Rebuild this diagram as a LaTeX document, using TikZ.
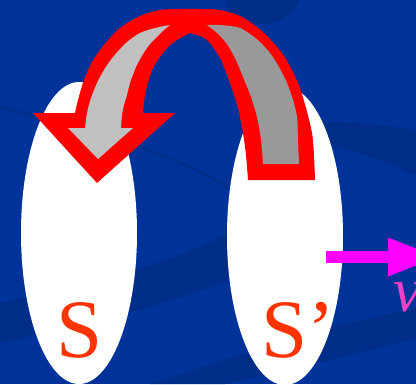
\documentclass[tikz,border=0pt]{standalone}
\usepackage{fontspec}
\setmainfont{Liberation Serif}
\usetikzlibrary{arrows.meta}
\definecolor{bgblue}{RGB}{0,51,153}
\definecolor{bgdark}{RGB}{0,45,136}
\definecolor{bandlight}{RGB}{192,192,192}
\definecolor{banddark}{RGB}{153,153,153}
\definecolor{letterred}{RGB}{255,51,0}
\definecolor{speedmagenta}{RGB}{255,0,255}
\definecolor{vpink}{RGB}{240,64,200}
\begin{document}
\begin{tikzpicture}[x=1pt,y=-1pt,
    frame/.style={white},
    letter/.style={text=letterred, font=\fontsize{83}{83}\selectfont, inner sep=0pt},
    speed/.style={speedmagenta, line width=12pt, -{Triangle[length=52pt,width=35pt]}}]
        % Background and its darker swooshes
        \useasboundingbox (0,0) rectangle (416,384);
        \clip (0,0) rectangle (416,384);
        \fill[bgblue] (0,0) rectangle (416,384);
        \fill[bgdark] (0,303) .. controls (90,285) and (180,260) .. (230,232)
            .. controls (280,160) and (300,122) .. (330,122) .. controls (360,122) and (390,126) .. (416,130)
            -- (416,175) .. controls (390,165) and (360,150) .. (330,147)
            .. controls (300,150) and (270,230) .. (230,280)
            .. controls (180,300) and (90,325) .. (0,343) -- cycle;
        \fill[bgdark] (150,384) .. controls (220,362) and (280,340) .. (330,327) -- (416,308)
            -- (416,338) -- (330,360) .. controls (290,370) and (250,378) .. (225,384) -- cycle;
        \fill[bgdark] (224,0) .. controls (228,20) and (240,26) .. (265,24)
            .. controls (285,22) and (295,10) .. (300,0) -- cycle;
        \draw[bgdark, line width=2pt] (0,107) .. controls (90,130) and (170,150) .. (240,195);
        
        % The two frames
        \fill[frame] (79,233) ellipse [x radius=58pt, y radius=151pt];
        \fill[frame] (285,236) ellipse [x radius=58pt, y radius=149pt];
        \node[letter, anchor=base] (s) at (80,357) {S};
        \node[letter, anchor=base west] (sp) at (261,357) {S’};
        
        % Red outline of the curved arrow
        \fill[red] (248,180) -- (315,180)
            -- plot[smooth] coordinates {(315,180) (314,155) (312,133) (306,108) (298,83)
                (284,56) (264,33) (242,17) (220,10) (200,9) (180,9) (160,10) (140,16)
                (120,28) (104,45) (92,62) (84,80) (78,100) (75,113)}
            -- (33,113) -- (97,183) -- (175,113) -- (143,113)
            -- plot[smooth] coordinates {(143,113) (145,95) (148,83) (153,68) (160,57)
                (168,47) (177,40) (190,33)}
            -- plot[smooth] coordinates {(190,33) (200,36) (208,41) (220,58) (230,83)
                (238,108) (243,133) (246,155) (248,180)}
            -- cycle;
        
        % Back part of the band (darker)
        \fill[banddark] (263,164) -- (299,164)
            -- plot[smooth] coordinates {(299,164) (298,140) (297,117) (293,100) (287,83)
                (279,67) (270,53) (260,42) (250,34) (240,28) (230,26) (218,25) (207,25)}
            -- plot[smooth] coordinates {(207,25) (217,33) (227,44) (236,60) (243,77)
                (251,97) (257,117) (261,140) (263,164)}
            -- cycle;
        
        % Front part of the band with the head (lighter)
        \fill[bandlight] (170,25)
            -- plot[smooth] coordinates {(170,25) (155,28) (140,33) (126,43) (113,57)
                (104,70) (97,83) (91,98) (87,113) (85,128)}
            -- (68,128) -- (98,159) -- (133,128) -- (121,128)
            -- plot[smooth] coordinates {(121,128) (122,115) (124,105) (127,95) (130,83)
                (136,67) (143,54) (150,44) (158,36) (164,30) (170,25)}
            -- cycle;
        
        % Velocity of S'
        \coordinate (vfrom) at (326,257);
        \coordinate (vto) at (440,257);
        \draw[speed] (vfrom) -- (vto);
        \node[text=vpink, font=\fontsize{63}{63}\selectfont\itshape, inner sep=0pt,
            anchor=base west] (v) at (393,311) {v};
      \end{tikzpicture}
\end{document}
